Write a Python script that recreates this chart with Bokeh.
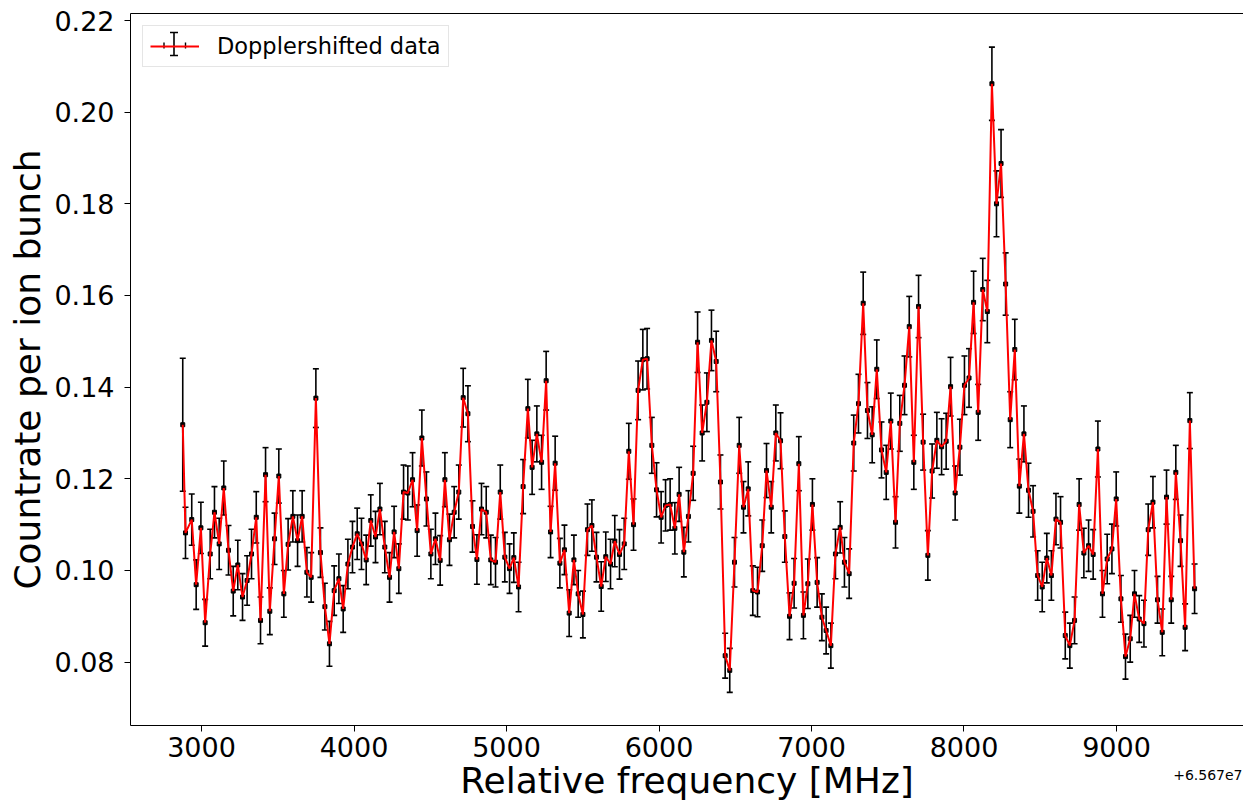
import numpy as np
from bokeh.plotting import figure
from bokeh.models import (ColumnDataSource, Range1d, LinearAxis, FixedTicker,
                          Legend, LegendItem, Whisker, TeeHead, Title)
from bokeh.embed import file_html
from bokeh.resources import INLINE

# Relative frequency (MHz, offset +6.567e7)
freq_rel = [
    2877, 2895, 2936, 2965, 2996, 3024, 3057, 3085, 3116, 3146, 3177, 3208, 3238, 3269, 3299, 3328, 3359, 3387, 3420, 3448, 3479, 3507,
    3540, 3568, 3599, 3630, 3660, 3691, 3719, 3750, 3780, 3809, 3839, 3870, 3901, 3929, 3960, 3990, 4021, 4049, 4080, 4110, 4141, 4170,
    4202, 4233, 4263, 4294, 4325, 4353, 4384, 4414, 4445, 4475, 4504, 4534, 4565, 4596, 4626, 4657, 4687, 4716, 4747, 4777, 4806,
    4836, 4867, 4897, 4928, 4959, 4989, 5020, 5048, 5079, 5109, 5140, 5168, 5199, 5230, 5260, 5289, 5319, 5350, 5380, 5411, 5442, 5470,
    5501, 5531, 5560, 5590, 5621, 5651, 5682, 5710, 5741, 5772, 5802, 5833, 5863, 5894, 5922, 5953, 5984, 6014, 6043, 6073, 6104, 6132,
    6163, 6193, 6224, 6253, 6283, 6314, 6344, 6375, 6403, 6434, 6464, 6495, 6526, 6554, 6585, 6615, 6646, 6677, 6705, 6736, 6766,
    6797, 6825, 6856, 6886, 6917, 6947, 6976, 7006, 7037, 7068, 7096, 7127, 7157, 7188, 7216, 7247, 7277, 7308, 7339, 7367, 7398, 7428,
    7459, 7490, 7520, 7551, 7579, 7610, 7641, 7671, 7702, 7732, 7763, 7791, 7822, 7853, 7883, 7912, 7942, 7973,
    8003, 8033, 8063, 8093, 8123, 8153, 8183, 8213, 8243, 8273, 8303, 8333, 8363, 8393, 8423, 8453, 8483, 8513, 8543, 8573, 8603,
    8633, 8664, 8694, 8725, 8755, 8786, 8817, 8847, 8878, 8908, 8939, 8970, 8998, 9029, 9059, 9090, 9118, 9149, 9180, 9208, 9239,
    9269, 9300, 9328, 9359, 9389, 9420, 9450, 9481, 9512,
]

# Countrate per ion bunch
countrate = [
    0.1318, 0.1082, 0.1111, 0.0969, 0.1093, 0.0886, 0.1036, 0.1127, 0.1058, 0.1180, 0.1044, 0.0955, 0.1012, 0.0942, 0.0978, 0.1036, 0.1116, 0.0891, 0.1209, 0.0911, 0.1069, 0.1206,
    0.0949, 0.1057, 0.1118, 0.1065, 0.1118, 0.0996, 0.0985, 0.1376, 0.1039, 0.0921, 0.0840, 0.0956, 0.0982, 0.0916, 0.1014, 0.1051, 0.1080, 0.1058, 0.1023, 0.1109, 0.1073, 0.1134,
    0.1051, 0.0985, 0.1084, 0.1004, 0.1171, 0.1169, 0.1198, 0.1087, 0.1289, 0.1156, 0.1036, 0.1069, 0.1022, 0.1198, 0.1067, 0.1127, 0.1171, 0.1377, 0.1342, 0.1096, 0.1024,
    0.1134, 0.1127, 0.1023, 0.1018, 0.1171, 0.1029, 0.1004, 0.1028, 0.0964, 0.1183, 0.1353, 0.1225, 0.1298, 0.1236, 0.1414, 0.1084, 0.1234, 0.1016, 0.1045, 0.0907, 0.1023, 0.0949,
    0.0904, 0.1089, 0.1098, 0.1029, 0.0965, 0.1030, 0.1014, 0.1064, 0.1035, 0.1058, 0.1260, 0.1100, 0.1393, 0.1460, 0.1462, 0.1273, 0.1176, 0.1116, 0.1142, 0.1144, 0.1092, 0.1166,
    0.1040, 0.1118, 0.1212, 0.1498, 0.1300, 0.1367, 0.1502, 0.1456, 0.1193, 0.0814, 0.0782, 0.1018, 0.1273, 0.1138, 0.1178, 0.0956, 0.0953, 0.1054, 0.1218, 0.1138, 0.1300,
    0.1283, 0.1074, 0.0900, 0.0972, 0.1233, 0.0902, 0.0971, 0.1144, 0.0974, 0.0898, 0.0869, 0.0836, 0.1036, 0.1094, 0.1018, 0.0993, 0.1278, 0.1364, 0.1583, 0.1349, 0.1296, 0.1439,
    0.1263, 0.1214, 0.1326, 0.1105, 0.1321, 0.1404, 0.1532, 0.1236, 0.1576, 0.1280, 0.1033, 0.1217, 0.1284, 0.1270, 0.1282, 0.1401, 0.1169, 0.1269,
    0.1404, 0.1420, 0.1585, 0.1345, 0.1613, 0.1565, 0.2062, 0.1800, 0.1888, 0.1625, 0.1329, 0.1482, 0.1184, 0.1298, 0.1175, 0.1129, 0.0989, 0.0964, 0.1027, 0.0989, 0.1112,
    0.1105, 0.0858, 0.0836, 0.0891, 0.1144, 0.1038, 0.1054, 0.1035, 0.1265, 0.0949, 0.1025, 0.1047, 0.1156, 0.0938, 0.0812, 0.0851, 0.0949, 0.0894, 0.0884, 0.1089, 0.1149,
    0.0936, 0.0865, 0.1160, 0.0936, 0.1214, 0.1065, 0.0876, 0.1327, 0.0960,
]

# Uncertainty of the countrate
countrate_err = [
    0.0145, 0.0056, 0.0056, 0.0054, 0.0056, 0.0051, 0.0054, 0.0056, 0.0056, 0.0059, 0.0054, 0.0054, 0.0054, 0.0051, 0.0054, 0.0054, 0.0056, 0.0051, 0.0059, 0.0051, 0.0056, 0.0059,
    0.0051, 0.0056, 0.0056, 0.0056, 0.0056, 0.0054, 0.0054, 0.0064, 0.0054, 0.0051, 0.0049, 0.0054, 0.0054, 0.0051, 0.0054, 0.0056, 0.0056, 0.0056, 0.0054, 0.0056, 0.0056, 0.0056,
    0.0056, 0.0054, 0.0056, 0.0054, 0.0059, 0.0059, 0.0059, 0.0056, 0.0061, 0.0059, 0.0054, 0.0056, 0.0054, 0.0059, 0.0056, 0.0056, 0.0059, 0.0064, 0.0061, 0.0056, 0.0054,
    0.0056, 0.0056, 0.0054, 0.0054, 0.0059, 0.0054, 0.0054, 0.0054, 0.0054, 0.0059, 0.0064, 0.0059, 0.0061, 0.0059, 0.0064, 0.0056, 0.0059, 0.0054, 0.0054, 0.0051, 0.0054, 0.0051,
    0.0051, 0.0056, 0.0056, 0.0054, 0.0054, 0.0054, 0.0054, 0.0056, 0.0054, 0.0056, 0.0061, 0.0056, 0.0064, 0.0066, 0.0066, 0.0061, 0.0059, 0.0056, 0.0056, 0.0056, 0.0056, 0.0059,
    0.0054, 0.0056, 0.0059, 0.0066, 0.0061, 0.0064, 0.0066, 0.0066, 0.0059, 0.0049, 0.0048, 0.0054, 0.0061, 0.0056, 0.0059, 0.0054, 0.0054, 0.0056, 0.0059, 0.0056, 0.0061,
    0.0061, 0.0056, 0.0051, 0.0054, 0.0059, 0.0051, 0.0054, 0.0056, 0.0054, 0.0051, 0.0051, 0.0049, 0.0054, 0.0056, 0.0054, 0.0054, 0.0061, 0.0064, 0.0068, 0.0061, 0.0061, 0.0064,
    0.0061, 0.0059, 0.0061, 0.0056, 0.0061, 0.0064, 0.0066, 0.0059, 0.0068, 0.0061, 0.0054, 0.0059, 0.0061, 0.0061, 0.0061, 0.0064, 0.0059, 0.0061,
    0.0064, 0.0064, 0.0068, 0.0061, 0.0068, 0.0068, 0.0080, 0.0072, 0.0074, 0.0068, 0.0061, 0.0066, 0.0059, 0.0061, 0.0059, 0.0056, 0.0054, 0.0054, 0.0054, 0.0054, 0.0056,
    0.0056, 0.0051, 0.0049, 0.0051, 0.0056, 0.0054, 0.0056, 0.0054, 0.0061, 0.0051, 0.0054, 0.0054, 0.0059, 0.0051, 0.0049, 0.0051, 0.0051, 0.0051, 0.0051, 0.0056, 0.0056,
    0.0051, 0.0051, 0.0059, 0.0051, 0.0059, 0.0056, 0.0051, 0.0061, 0.0054,
]

x_ticks = [3000, 4000, 5000, 6000, 7000, 8000, 9000]
x_tick_labels = ["3000", "4000", "5000", "6000", "7000", "8000", "9000"]
y_ticks = [0.08, 0.10, 0.12, 0.14, 0.16, 0.18, 0.20, 0.22]
y_tick_labels = ["0.08", "0.10", "0.12", "0.14", "0.16", "0.18", "0.20", "0.22"]
offset_text = "+6.567e7"
series_label = "Dopplershifted data"

yv = np.array(countrate)
ev = np.array(countrate_err)
src = ColumnDataSource(dict(x=freq_rel, y=countrate, lo=list(yv - ev), hi=list(yv + ev)))

FONT = "DejaVu Sans"
X_START, X_END = 2534.4, 9832.8
Y_START, Y_END = 0.06617, 0.22153

p = figure(width=1243, height=803, output_backend="svg", toolbar_location=None,
           x_range=Range1d(X_START, X_END), y_range=Range1d(Y_START, Y_END),
           min_border_left=130, min_border_right=0, min_border_top=13, min_border_bottom=78,
           x_axis_label="Relative frequency [MHz]", y_axis_label="Countrate per ion bunch")
p.outline_line_color = None
p.grid.visible = False
p.background_fill_color = "white"
p.border_fill_color = "white"

for ax in (p.xaxis[0], p.yaxis[0]):
    ax.axis_line_color = "black"
    ax.axis_line_width = 1
    ax.major_tick_line_color = "black"
    ax.major_tick_line_width = 1
    ax.major_tick_out = 6
    ax.major_tick_in = 0
    ax.minor_tick_out = 0
    ax.minor_tick_in = 0
    ax.major_label_text_font = FONT
    ax.major_label_text_font_size = "27px"
    ax.major_label_text_color = "black"
    ax.axis_label_text_font = FONT
    ax.axis_label_text_font_size = "36px"
    ax.axis_label_text_font_style = "normal"
    ax.axis_label_text_color = "black"

p.xaxis[0].ticker = FixedTicker(ticks=x_ticks)
p.xaxis[0].major_label_overrides = dict(zip(x_ticks, x_tick_labels))
p.xaxis[0].major_label_standoff = 5
p.xaxis[0].axis_label_standoff = 0
p.yaxis[0].ticker = FixedTicker(ticks=y_ticks)
p.yaxis[0].major_label_overrides = dict(zip(y_ticks, y_tick_labels))
p.yaxis[0].major_label_standoff = 10
p.yaxis[0].axis_label_standoff = 3

# top spine
top = LinearAxis(ticker=FixedTicker(ticks=[]), major_label_text_font_size="0px",
                 major_tick_out=0, major_tick_in=0, minor_tick_out=0, minor_tick_in=0,
                 axis_line_color="black", axis_line_width=1)
p.add_layout(top, "above")

# offset text of the x axis (matplotlib style), placed at the bottom right corner
p.add_layout(Title(text=offset_text, align="right", vertical_align="top", offset=1, standoff=-68,
                   text_font=FONT, text_font_size="14px", text_font_style="normal",
                   text_color="black"), "below")

# error bars
p.segment(x0="x", y0="lo", x1="x", y1="hi", source=src, line_color="black", line_width=1.6)
p.scatter(x="x", y="hi", source=src, marker="dash", size=6, line_color="black", line_width=1.6)
p.scatter(x="x", y="lo", source=src, marker="dash", size=6, line_color="black", line_width=1.6)
# x-error caps at the points
p.scatter(x="x", y="y", source=src, marker="square", size=4, fill_color="black", line_color="black")
line = p.line(x="x", y="y", source=src, line_color="#ff0000", line_width=2)

legend = Legend(items=[LegendItem(label=series_label, renderers=[line])],
                location="top_left", margin=12, padding=7, spacing=0,
                glyph_width=49, glyph_height=26, label_standoff=18,
                label_text_font=FONT, label_text_font_size="22.5px", label_text_color="black",
                border_line_color="#cccccc", border_line_width=1,
                background_fill_color="white", background_fill_alpha=0.0)
p.add_layout(legend)

# error-bar symbol inside the legend glyph (screen units relative to the frame)
leg_src = ColumnDataSource(dict(b=[43.5], u=[693], l=[670]))
p.add_layout(Whisker(source=leg_src, base="b", upper="u", lower="l", dimension="height",
                     base_units="screen", upper_units="screen", lower_units="screen",
                     line_color="black", line_width=1.6, level="overlay",
                     upper_head=TeeHead(size=8, line_color="black", line_width=1.6),
                     lower_head=TeeHead(size=8, line_color="black", line_width=1.6)))
leg_caps = ColumnDataSource(dict(b=[33.5, 55.0], u=[683, 683], l=[677, 677]))
p.add_layout(Whisker(source=leg_caps, base="b", upper="u", lower="l", dimension="height",
                     base_units="screen", upper_units="screen", lower_units="screen",
                     line_color="black", line_width=1.4, level="overlay",
                     upper_head=None, lower_head=None))

open("out.html", "w").write(file_html(p, INLINE))
